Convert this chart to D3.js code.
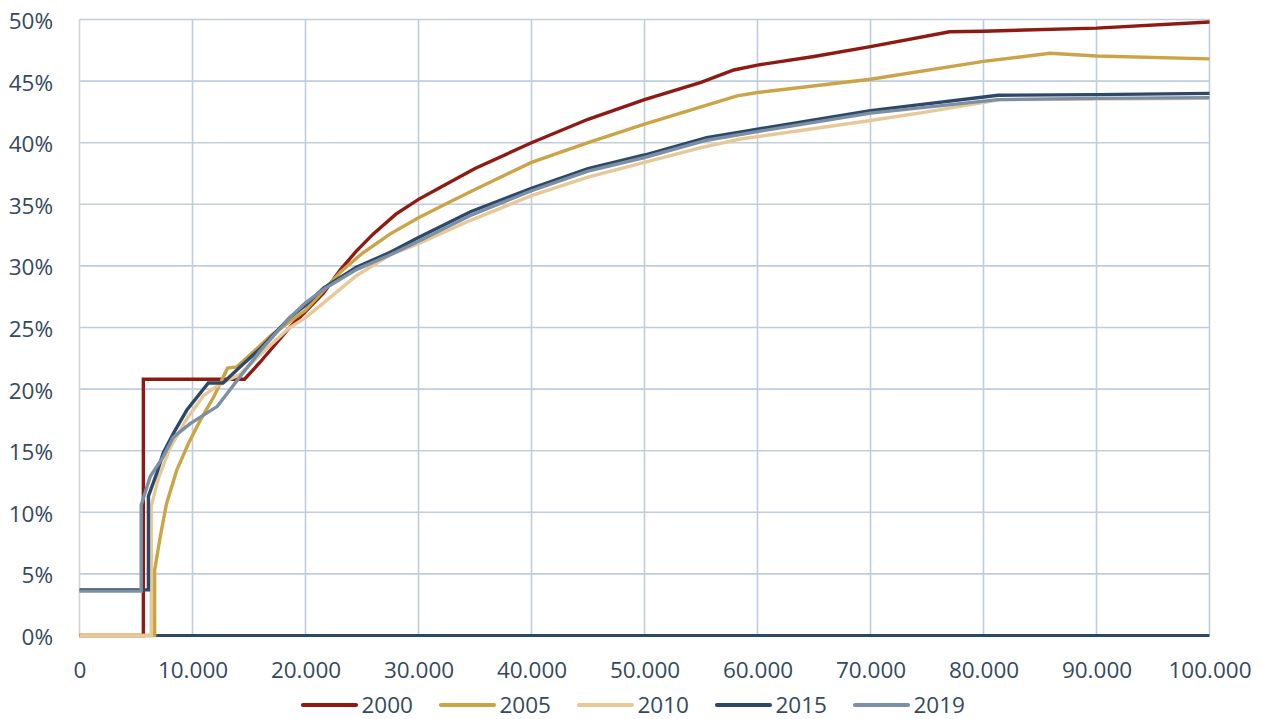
<!DOCTYPE html>
<html>
<head>
<meta charset="utf-8">
<script src="https://cdn.jsdelivr.net/npm/d3@7"></script>
<style>
  html, body { margin: 0; padding: 0; background: #ffffff; }
  svg { display: block; }
  text { font-family: "Open Sans", "Liberation Sans", sans-serif; fill: #34495f; }
</style>
</head>
<body>
<svg id="chart" width="1263" height="719"></svg>
<script>
// ---- Data (income in euros, rate as fraction) ----
const seriesNames = ["2000", "2005", "2010", "2015", "2019"];

const data2000 = [
  [0, 0], [5650, 0], [5650, 0.208], [14600, 0.208], [16000, 0.222], [18600, 0.250],
  [20000, 0.263], [21600, 0.278], [23100, 0.297], [24500, 0.312], [26000, 0.326],
  [28000, 0.342], [30000, 0.354], [32000, 0.364], [35000, 0.379], [40000, 0.400],
  [45000, 0.419], [50000, 0.435], [55000, 0.449], [57900, 0.459], [60000, 0.463],
  [65000, 0.470], [70000, 0.478], [77000, 0.490], [80000, 0.4905], [90000, 0.493],
  [100000, 0.498]
];
const data2005 = [
  [0, 0], [6650, 0], [6650, 0.053], [7140, 0.080], [7700, 0.107], [8600, 0.134],
  [9650, 0.156], [10700, 0.175], [11900, 0.194], [13100, 0.217], [13900, 0.218],
  [15000, 0.227], [17000, 0.244], [20000, 0.264], [23100, 0.295], [25000, 0.310],
  [27500, 0.326], [30000, 0.339], [32800, 0.352], [35000, 0.362], [40000, 0.384],
  [45000, 0.400], [50000, 0.415], [55000, 0.429], [58200, 0.438], [60000, 0.4407],
  [70000, 0.4515], [80000, 0.466], [85900, 0.4726], [90000, 0.4704], [100000, 0.468]
];
const data2010 = [
  [0, 0], [6350, 0], [6350, 0.105], [7000, 0.128], [8000, 0.152], [9500, 0.176],
  [11000, 0.195], [12600, 0.205], [14200, 0.212], [16000, 0.228], [18600, 0.250],
  [20000, 0.258], [21600, 0.270], [24500, 0.292], [27500, 0.309], [30000, 0.318],
  [34600, 0.337], [40000, 0.357], [45000, 0.372], [50000, 0.384], [55000, 0.396],
  [58500, 0.403], [70000, 0.418], [75000, 0.425], [81500, 0.435], [90000, 0.4355],
  [100000, 0.436]
];
const data2015 = [
  [0, 0.037], [6100, 0.037], [6100, 0.113], [6850, 0.132], [7400, 0.148], [8300, 0.164],
  [9500, 0.183], [11400, 0.205], [12700, 0.205], [14200, 0.218], [16000, 0.233],
  [18600, 0.258], [20000, 0.268], [21600, 0.282], [24500, 0.299], [27500, 0.311],
  [30000, 0.323], [34600, 0.344], [40000, 0.363], [45000, 0.379], [50000, 0.390],
  [55500, 0.404], [60000, 0.411], [70000, 0.426], [81300, 0.4385], [90000, 0.439],
  [100000, 0.440]
];
const data2019 = [
  [0, 0.036], [5460, 0.036], [5460, 0.106], [6260, 0.129], [7400, 0.145], [8300, 0.161],
  [9800, 0.172], [12200, 0.186], [14200, 0.210], [16000, 0.231], [18600, 0.258],
  [20000, 0.270], [21600, 0.281], [24500, 0.297], [27500, 0.309], [30000, 0.320],
  [34600, 0.341], [40000, 0.361], [45000, 0.377], [50000, 0.388], [55500, 0.402],
  [60000, 0.409], [70000, 0.424], [81300, 0.435], [90000, 0.436], [100000, 0.4366]
];
const seriesData = [data2000, data2005, data2010, data2015, data2019];
const seriesColors = ["#8e1a12", "#cba447", "#e7c898", "#2e4968", "#7b90a4"];

const xTicks = [0, 10000, 20000, 30000, 40000, 50000, 60000, 70000, 80000, 90000, 100000];
const yTicks = [0, 0.05, 0.10, 0.15, 0.20, 0.25, 0.30, 0.35, 0.40, 0.45, 0.50];

// ---- Chart ----
const svg = d3.select("#chart");
const x = d3.scaleLinear().domain([0, 100000]).range([79.5, 1209.5]);
const y = d3.scaleLinear().domain([0, 0.5]).range([635.5, 19.5]);

const locale = d3.formatLocale({ decimal: ",", thousands: ".", grouping: [3], currency: ["", ""] });
const fmtX = locale.format(",");
const fmtY = d => Math.round(d * 100) + "%";
const FS = 22.5;

// gridlines
const grid = svg.append("g");
grid.selectAll("line.h").data(yTicks.filter(d => d > 0)).join("line")
  .attr("x1", x(0)).attr("x2", x(100000))
  .attr("y1", d => y(d)).attr("y2", d => y(d))
  .attr("stroke", "#bfcddc").attr("stroke-width", 1.6);
grid.selectAll("line.v").data(xTicks.filter(d => d > 0)).join("line")
  .attr("y1", y(0)).attr("y2", y(0.5))
  .attr("x1", d => x(d)).attr("x2", d => x(d))
  .attr("stroke", "#bfcddc").attr("stroke-width", 1.6);
// left axis line
svg.append("line").attr("x1", x(0)).attr("x2", x(0)).attr("y1", y(0)).attr("y2", y(0.5))
  .attr("stroke", "#d3d3d3").attr("stroke-width", 1.6);

// y axis labels
const yAxis = d3.axisLeft(y).tickValues(yTicks).tickFormat(fmtY).tickSize(0).tickPadding(26.5);
const gy = svg.append("g").attr("transform", `translate(${x(0)},0)`).call(yAxis);
gy.select(".domain").remove();
gy.selectAll("text").attr("font-size", FS).attr("fill", "#34495f")
  .attr("font-family", "'Open Sans', sans-serif").attr("dy", "0.40em");

// x axis labels
const xAxis = d3.axisBottom(x).tickValues(xTicks).tickFormat(fmtX).tickSize(0).tickPadding(27);
const gx = svg.append("g").attr("transform", `translate(0,${y(0)})`).call(xAxis);
gx.select(".domain").remove();
gx.selectAll("text").attr("font-size", FS).attr("fill", "#34495f")
  .attr("font-family", "'Open Sans', sans-serif");

// baseline (x axis line)
svg.append("line").attr("x1", x(0)).attr("x2", x(100000)).attr("y1", y(0)).attr("y2", y(0))
  .attr("stroke", "#2e4968").attr("stroke-width", 3.2);

// series
const line = d3.line().x(d => x(d[0])).y(d => y(d[1]));
svg.append("g").selectAll("path").data(seriesData).join("path")
  .attr("d", line)
  .attr("fill", "none")
  .attr("stroke", (d, i) => seriesColors[i])
  .attr("stroke-width", 3.4)
  .attr("stroke-linejoin", "miter");

// legend
const legend = svg.append("g");
const legItems = legend.selectAll("g").data(seriesNames).join("g")
  .attr("transform", (d, i) => `translate(${303 + i * 138},705)`);
legItems.append("line").attr("x1", 0).attr("x2", 53).attr("y1", 0).attr("y2", 0)
  .attr("stroke", (d, i) => seriesColors[i]).attr("stroke-width", 4.2)
  .attr("stroke-linecap", "round");
legItems.append("text").attr("x", 58.5).attr("y", 7.5)
  .attr("font-size", FS).attr("fill", "#34495f").text(d => d);
</script>
</body>
</html>
